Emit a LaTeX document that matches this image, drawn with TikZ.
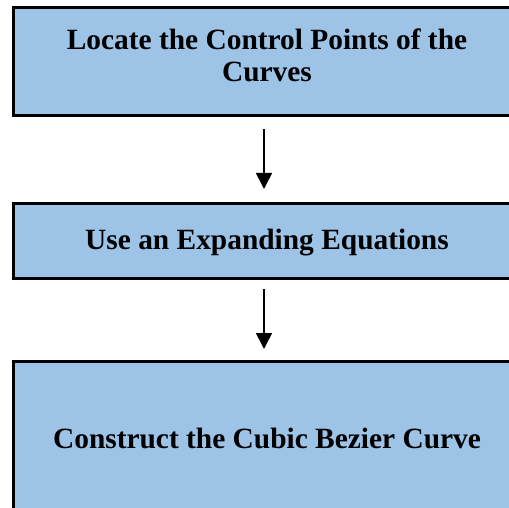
\documentclass[tikz,border=0pt]{standalone}
\usepackage{fontspec}
\setmainfont{Liberation Serif}
\usetikzlibrary{arrows.meta}
\definecolor{boxblue}{RGB}{157,195,230}
\begin{document}
\begin{tikzpicture}[x=1pt,y=-1pt,
  stepbox/.style={draw=black, line width=3pt, fill=boxblue, minimum width=508pt, inner sep=0pt},
  steptext/.style={inner sep=0pt, align=center, font=\bfseries\fontsize{29.4}{32}\selectfont},
  flow/.style={-{Triangle[length=16pt,width=16pt]}, line width=1.6pt}]
\useasboundingbox (0,0) rectangle (509,508);
\clip (0,0) rectangle (509,508);
\node[stepbox, minimum height=108pt] (b1) at (267,62) {};
\node[stepbox, minimum height=74pt] (b2) at (267,241) {};
\node[stepbox, minimum height=154pt] (b3) at (267,438) {};
\node[steptext] (t1) at (267,55) {Locate the Control Points of the\\Curves};
\node[steptext] (t2) at (267,243) {Use an Expanding Equations};
\node[steptext] (t3) at (267,438) {Construct the Cubic Bezier Curve};
\draw[flow, shorten <=11.5pt, shorten >=13.5pt] ([xshift=-3pt]b1.south) -- ([xshift=-3pt]b2.north);
\draw[flow, shorten <=9.5pt, shorten >=10.5pt] ([xshift=-3pt]b2.south) -- ([xshift=-3pt]b3.north);
\end{tikzpicture}
\end{document}
